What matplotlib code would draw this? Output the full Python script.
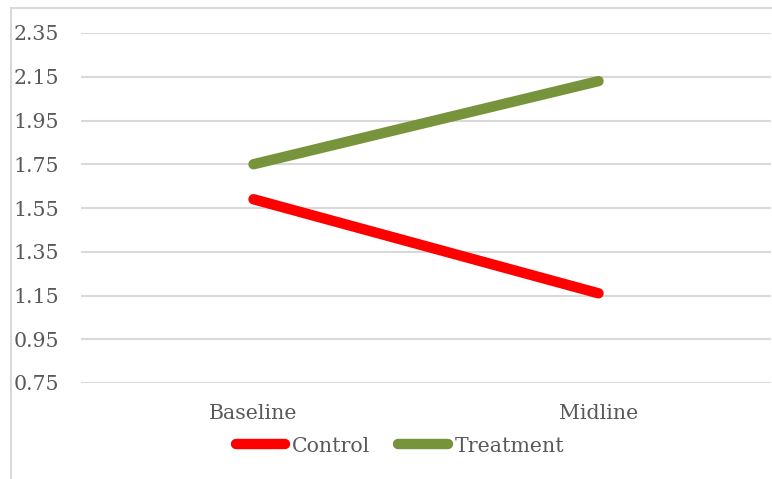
import matplotlib
matplotlib.use("Agg")
import matplotlib.pyplot as plt
from matplotlib.patches import Rectangle

categories = ["Baseline", "Midline"]
control = [1.59, 1.16]
treatment = [1.75, 2.13]
yticks = [0.75, 0.95, 1.15, 1.35, 1.55, 1.75, 1.95, 2.15, 2.35]

W, H = 772, 479
fig = plt.figure(figsize=(W / 100, H / 100), dpi=100)
plt.rcParams["font.family"] = ["DejaVu Serif"]
text_color = "#595959"
fs = 14.8

# chart frame (partially cropped on right and bottom)
fig.patches.append(Rectangle((11 / W, -0.2), 2.0, 1.2 - 8 / H,
                             transform=fig.transFigure, fill=False,
                             edgecolor="#d9d9d9", linewidth=1.5))

ax = fig.add_axes([81 / W, 1 - 383 / H, 690 / W, 350 / H])
x = [0.5, 1.5]
ax.plot(x, control, color="#ff0000", lw=7.5, solid_capstyle="round", label="Control")
ax.plot(x, treatment, color="#77933c", lw=7.5, solid_capstyle="round", label="Treatment")

ax.set_xlim(0, 2)
ax.set_ylim(0.75, 2.35)
ax.set_yticks(yticks)
ax.set_yticklabels([f"{v:.2f}" for v in yticks])
ax.set_xticks(x)
ax.set_xticklabels(categories)
ax.grid(axis="y", color="#d9d9d9", lw=1.5)
ax.set_axisbelow(True)
for s in ax.spines.values():
    s.set_visible(False)
ax.tick_params(axis="both", length=0, labelsize=fs, labelcolor=text_color)
ax.tick_params(axis="y", pad=16)
ax.tick_params(axis="x", pad=15)

leg = fig.legend(loc="center", bbox_to_anchor=(400 / W, 1 - 446 / H), ncol=2,
                 frameon=False, fontsize=fs, handlelength=2.4, handletextpad=0.35,
                 columnspacing=1.35)
for t in leg.get_texts():
    t.set_color(text_color)

fig.savefig("out.png", dpi=100)
